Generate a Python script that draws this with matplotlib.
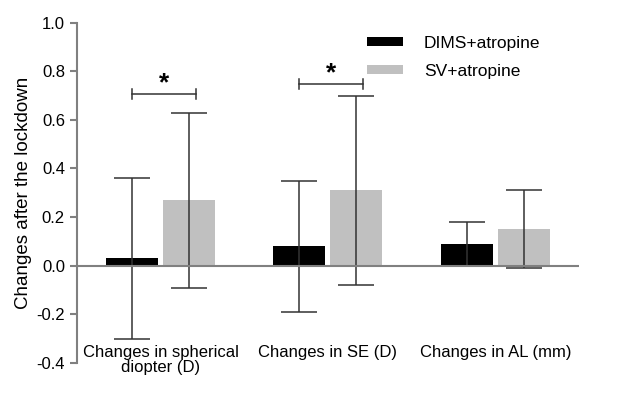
import numpy as np
import matplotlib
matplotlib.use('Agg')
import matplotlib.pyplot as plt

# ── Data ──────────────────────────────────────────────────────────────────────
categories = ["Changes in spherical\ndiopter (D)", "Changes in SE (D)", "Changes in AL (mm)"]
dims_mean  = [0.03, 0.08, 0.09]
dims_upper = [0.36, 0.35, 0.18]
dims_lower = [-0.30, -0.19, 0.00]
sv_mean    = [0.27, 0.31, 0.15]
sv_upper   = [0.63, 0.70, 0.31]
sv_lower   = [-0.09, -0.08, -0.01]
series_names = ["DIMS+atropine", "SV+atropine"]
sig_heights = [0.705, 0.748]   # bracket level for the "*" comparisons

plt.rcParams['font.family'] = ['Liberation Sans', 'DejaVu Sans']

fig = plt.figure(figsize=(6.24, 3.97), dpi=100)
ax = fig.add_axes([0.123, 0.086, 0.805, 0.857])

x = np.arange(len(categories))
off, w = 0.17, 0.31
dims_mean = np.array(dims_mean); sv_mean = np.array(sv_mean)

ax.bar(x - off, dims_mean, w, color="black", label=series_names[0], zorder=2)
ax.bar(x + off, sv_mean, w, color="#c0c0c0", label=series_names[1], zorder=2)

err_kw = dict(fmt="none", ecolor="#333333", elinewidth=1.1, capsize=13, capthick=1.1, zorder=3)
ax.errorbar(x - off, dims_mean,
            yerr=[dims_mean - np.array(dims_lower), np.array(dims_upper) - dims_mean], **err_kw)
ax.errorbar(x + off, sv_mean,
            yerr=[sv_mean - np.array(sv_lower), np.array(sv_upper) - sv_mean], **err_kw)

# zero line
ax.axhline(0, color="#808080", lw=1.5, zorder=4)

# significance brackets
for i, h in enumerate(sig_heights):
    x0, x1 = x[i] - 0.17, x[i] + 0.21
    ax.plot([x0, x1], [h, h], color="#333333", lw=1.1)
    ax.plot([x0, x0], [h - 0.02, h + 0.02], color="#333333", lw=1.1)
    ax.plot([x1, x1], [h - 0.02, h + 0.02], color="#333333", lw=1.1)
    ax.text((x0 + x1) / 2, h - 0.005, "*", ha="center", va="bottom",
            fontsize=19, fontweight="bold")

# category labels inside the plot area
for xi, lab in zip(x, categories):
    ax.text(xi, -0.325, lab, ha="center", va="top", fontsize=12, linespacing=1.05)

ax.set_xlim(-0.5, 2.5)
ax.set_ylim(-0.4, 1.0)
ax.set_yticks(np.arange(-0.4, 1.01, 0.2))
ax.set_yticklabels([f"{v:.1f}" for v in np.arange(-0.4, 1.01, 0.2)], fontsize=12)
ax.set_xticks([])
ax.tick_params(axis="y", color="#808080", width=1.5, length=5)
for s in ["top", "right", "bottom"]:
    ax.spines[s].set_visible(False)
ax.spines["left"].set_color("#808080")
ax.spines["left"].set_linewidth(1.5)
ax.set_ylabel("Changes after the lockdown", fontsize=13.5, labelpad=3)

ax.legend(loc="upper left", bbox_to_anchor=(0.546, 1.008), frameon=False,
          fontsize=12.5, handlelength=2.1, handleheight=0.45,
          labelspacing=0.75, handletextpad=1.2)

plt.savefig("out.png", dpi=100)
